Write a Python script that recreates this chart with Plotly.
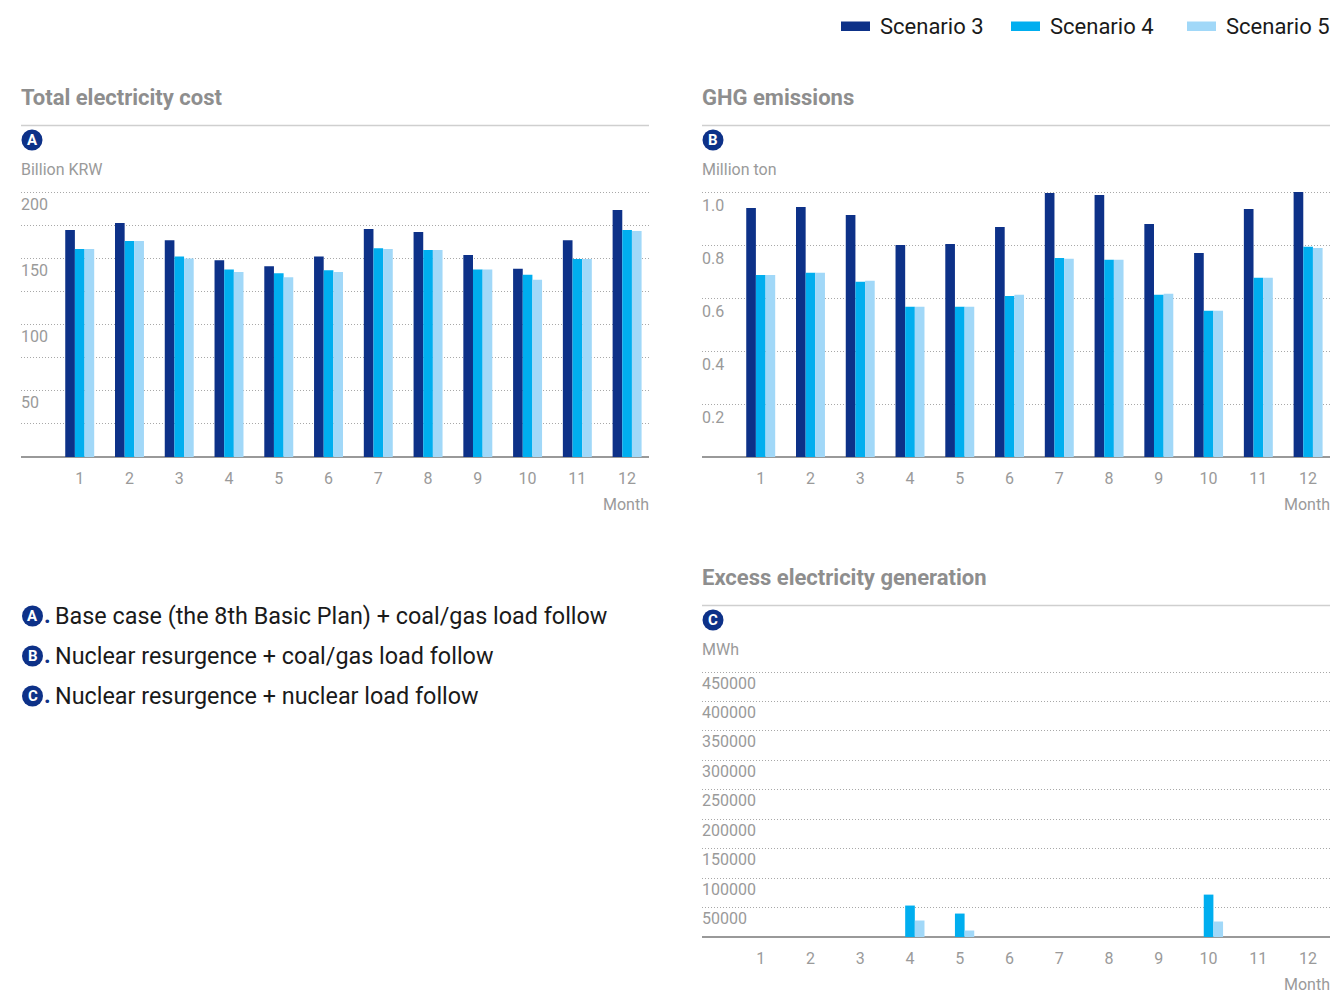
import plotly.graph_objects as go

W, H = 1332, 990

months = list(range(1, 13))
series_names = ["Scenario 3", "Scenario 4", "Scenario 5"]
series_colors = ["#0D3188", "#00AEEF", "#A1D8F8"]

cost_s3 = [171.4, 176.6, 163.6, 148.5, 143.9, 151.3, 172.0, 169.8, 152.5, 142.0, 163.6, 186.5]
cost_s4 = [157.0, 163.0, 151.3, 141.6, 138.7, 140.9, 157.6, 156.2, 141.6, 137.5, 149.5, 171.4]
cost_s5 = [157.0, 163.0, 149.8, 139.6, 135.6, 139.6, 157.0, 156.2, 141.6, 133.7, 149.5, 170.6]

ghg_s3 = [0.940, 0.943, 0.913, 0.800, 0.804, 0.868, 0.996, 0.989, 0.879, 0.770, 0.936, 1.000]
ghg_s4 = [0.687, 0.695, 0.661, 0.567, 0.567, 0.608, 0.751, 0.744, 0.612, 0.552, 0.676, 0.793]
ghg_s5 = [0.687, 0.695, 0.665, 0.567, 0.567, 0.612, 0.748, 0.744, 0.616, 0.552, 0.676, 0.789]

excess_s3 = [0, 0, 0, 0, 0, 0, 0, 0, 0, 0, 0, 0]
excess_s4 = [0, 0, 0, 53400, 39800, 0, 0, 0, 0, 72000, 0, 0]
excess_s5 = [0, 0, 0, 28000, 11000, 0, 0, 0, 0, 26300, 0, 0]

cost_grid = [25, 50, 75, 100, 125, 150, 175, 200]
cost_labels = ["", "50", "", "100", "", "150", "", "200"]
ghg_grid = [0.2, 0.4, 0.6, 0.8, 1.0]
ghg_labels = ["0.2", "0.4", "0.6", "0.8", "1.0"]
excess_grid = [50000, 100000, 150000, 200000, 250000, 300000, 350000, 400000, 450000]
excess_labels = [str(v) for v in excess_grid]

panels = [
    dict(title="Total electricity cost", badge="A", unit="Billion KRW", values=[cost_s3, cost_s4, cost_s5],
         grid=cost_grid, labels=cost_labels, ymax=200, left=21, right=649, dy=0, shift=12),
    dict(title="GHG emissions", badge="B", unit="Million ton", values=[ghg_s3, ghg_s4, ghg_s5],
         grid=ghg_grid, labels=ghg_labels, ymax=1.0, left=702, right=1330, dy=0, shift=13),
    dict(title="Excess electricity generation", badge="C", unit="MWh", values=[excess_s3, excess_s4, excess_s5],
         grid=excess_grid, labels=excess_labels, ymax=450000, left=702, right=1330, dy=480, shift=11),
]

notes = [
    ("A", "Base case (the 8th Basic Plan) + coal/gas load follow"),
    ("B", "Nuclear resurgence + coal/gas load follow"),
    ("C", "Nuclear resurgence + nuclear load follow"),
]

NAVY = "#0D3188"
GREY = "#9A9A9A"
TITLE_GREY = "#8E8E8E"
FONT = "Roboto"


def px(x):
    return x / W


def py(y):
    return 1 - y / H


annotations = []
shapes = []


def label(x, y, text, size, color, anchor="left", bold=False):
    annotations.append(dict(
        x=px(x), y=py(y), xref="paper", yref="paper", text=f"<b>{text}</b>" if bold else text,
        showarrow=False, xanchor=anchor, yanchor="middle", align=anchor,
        font=dict(family=FONT, size=size, color=color), borderpad=0, borderwidth=0,
    ))


def badge(cx, cy, letter):
    r = 10.5
    shapes.append(dict(type="circle", xref="paper", yref="paper", x0=px(cx - r), x1=px(cx + r),
                       y0=py(cy + r), y1=py(cy - r), fillcolor=NAVY, line=dict(width=0)))
    label(cx, cy, letter, 15, "white", anchor="center", bold=True)


fig = go.Figure()

# the axis runs 2px past its last gridline so that line is still drawn
HEADROOM = 267 / 265

for i, p in enumerate(panels):
    suffix = "" if i == 0 else str(i + 1)
    top, base = 190 + p["dy"], 457 + p["dy"]
    for name, color, vals in zip(series_names, series_colors, p["values"]):
        fig.add_trace(go.Bar(x=months, y=vals, name=name, marker=dict(color=color, line=dict(width=0)),
                             xaxis="x" + suffix, yaxis="y" + suffix, showlegend=False))
    fig.update_layout({
        "xaxis" + suffix: dict(
            domain=[px(p["left"]), px(p["right"])], range=[-0.18, 12.44], anchor="y" + suffix,
            tickvals=months, ticks="", showgrid=False, zeroline=False, showline=False,
            ticklabelstandoff=10,
            tickfont=dict(family=FONT, size=16, color=GREY),
        ),
        "yaxis" + suffix: dict(
            domain=[py(base), py(top)], range=[0, p["ymax"] * HEADROOM], anchor="x" + suffix,
            tickvals=p["grid"], ticktext=p["labels"], ticks="", showline=False,
            zeroline=True, zerolinecolor="#999999", zerolinewidth=1.5,
            showgrid=True, griddash="1px,2px", gridcolor="#A8A8A8", gridwidth=1,
            ticklabelposition="inside", ticklabelshift=p["shift"], ticklabelstandoff=-3,
            tickfont=dict(family=FONT, size=16, color=GREY),
        ),
    })
    # panel heading, rule, badge, unit and axis caption
    label(p["left"], 97.5 + p["dy"], p["title"], 22, TITLE_GREY, bold=True)
    shapes.append(dict(type="line", xref="paper", yref="paper", x0=px(p["left"]), x1=px(p["right"]),
                       y0=py(125.5 + p["dy"]), y1=py(125.5 + p["dy"]), line=dict(color="#CFCFCF", width=1.5)))
    badge(p["left"] + 11, 140 + p["dy"], p["badge"])
    label(p["left"], 169.5 + p["dy"], p["unit"], 16, GREY)
    label(p["right"], 505 + min(p["dy"], 479), "Month", 16, GREY, anchor="right")

# legend row
legend_x = [(841, 880), (1011, 1050), (1187, 1226)]
for (sx, tx), name, color in zip(legend_x, series_names, series_colors):
    shapes.append(dict(type="rect", xref="paper", yref="paper", x0=px(sx), x1=px(sx + 29),
                       y0=py(31), y1=py(21.5), fillcolor=color, line=dict(width=0)))
    label(tx, 27, name, 22, "#1A1A1A")

# scenario key in the lower left
for k, (letter, text) in enumerate(notes):
    y = 616 + 40 * k
    badge(32.5, y, letter)
    label(44, y - 1, "<b>.</b>", 23, NAVY)
    label(55, y, text, 23.37, "#1A1A1A")

fig.update_layout(
    width=W, height=H, autosize=False, margin=dict(l=0, r=0, t=0, b=0),
    paper_bgcolor="white", plot_bgcolor="white", barmode="group", bargap=0.418, bargroupgap=0,
    showlegend=False, annotations=annotations, shapes=shapes,
    font=dict(family=FONT),
)

fig.write_html("out.html", config=dict(displayModeBar=False))
